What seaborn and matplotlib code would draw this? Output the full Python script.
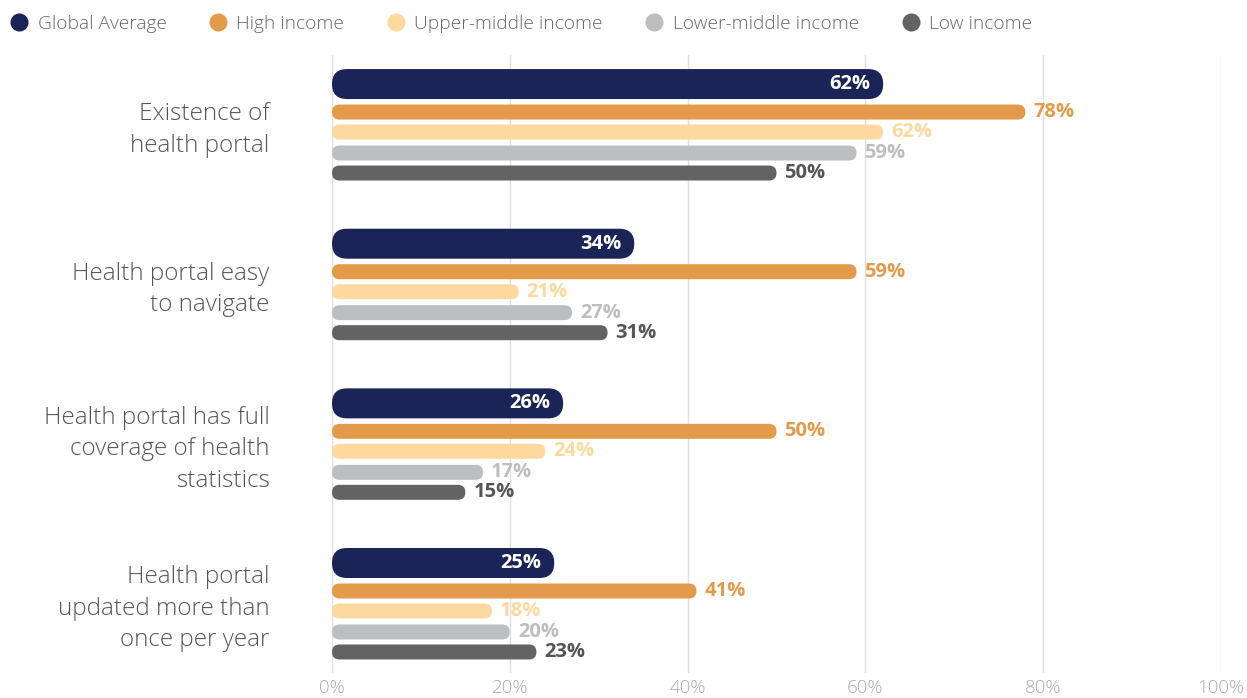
import matplotlib
matplotlib.use("Agg")
import matplotlib.pyplot as plt
import seaborn as sns
import pandas as pd
from matplotlib.patches import FancyBboxPatch
from matplotlib.lines import Line2D
from matplotlib.transforms import ScaledTranslation

# --- data -------------------------------------------------------------
categories = [
    "Existence of\nhealth portal",
    "Health portal easy\nto navigate",
    "Health portal has full\ncoverage of health\nstatistics",
    "Health portal\nupdated more than\nonce per year",
]
series = ["Global Average", "High income", "Upper-middle income",
          "Lower-middle income", "Low income"]
global_average = [62, 34, 26, 25]
high_income = [78, 59, 50, 41]
upper_middle_income = [62, 21, 24, 18]
lower_middle_income = [59, 27, 17, 20]
low_income = [50, 31, 15, 23]
xticks = [0, 20, 40, 60, 80, 100]

bar_colors = ["#1A2456", "#E39B4B", "#FDD9A0", "#BDBEC0", "#636363"]
label_colors = ["#FFFFFF", "#E39B4B", "#FDD9A0", "#BDBEC0", "#555555"]

values = [global_average, high_income, upper_middle_income,
          lower_middle_income, low_income]
df = pd.DataFrame({
    "category": [c for _ in series for c in categories],
    "series": [s for s in series for _ in categories],
    "value": [v for vals in values for v in vals],
})

# --- figure -----------------------------------------------------------
sns.set_theme(style="white")
plt.rcParams["font.family"] = ["Open Sans", "DejaVu Sans"]

W, H = 1247, 698
fig = plt.figure(figsize=(W / 100, H / 100), dpi=100)
ax_left, ax_right, ax_top, ax_bottom = 332, 1221, 55, 673
ax = fig.add_axes([ax_left / W, 1 - ax_bottom / H,
                   (ax_right - ax_left) / W, (ax_bottom - ax_top) / H])

sns.barplot(data=df, x="value", y="category", hue="series",
            order=categories, hue_order=series, palette=bar_colors,
            orient="h", dodge=True, legend=False, ax=ax)

ax.set_xlim(0, 100)
ax.set_ylim(3.426, -0.445)

px_per_y = 159.7                       # pixels per category step
x_per_px = 100 / (ax_right - ax_left)  # data units per pixel along x
offsets_px = [-42, -14, 6, 27, 47]     # bar centres relative to group centre
heights_px = [30, 15, 15, 15, 15]

# Swap seaborn's rectangles for pill-shaped bars
for k, container in enumerate(ax.containers):
    h_y = heights_px[k] / px_per_y
    r_x = heights_px[k] / 2 * x_per_px
    aspect = (h_y / 2) / r_x
    for j, rect in enumerate(container.patches):
        val = rect.get_width()
        yc = j + offsets_px[k] / px_per_y
        rect.set_visible(False)
        pill = FancyBboxPatch(
            (0, yc - h_y / 2), val, h_y,
            boxstyle=f"round,pad=0,rounding_size={r_x}",
            mutation_aspect=aspect, mutation_scale=1,
            facecolor=bar_colors[k], edgecolor="none", zorder=3)
        ax.add_patch(pill)
        if k == 0:
            ax.text(val - 13 * x_per_px, yc, f"{val:.0f}%", ha="right",
                    va="center", color=label_colors[k], fontsize=14.5,
                    fontweight="bold", zorder=4)
        else:
            ax.text(val + 8 * x_per_px, yc, f"{val:.0f}%", ha="left",
                    va="center", color=label_colors[k], fontsize=14.5,
                    fontweight="bold", zorder=4)

# axes styling
for s in ax.spines.values():
    s.set_visible(False)
ax.set_xticks(xticks)
ax.set_xticklabels([f"{t}%" for t in xticks], color="#AAAAAA", fontsize=13.5,
                   fontweight="light")
ax.tick_params(axis="x", length=0, pad=4)
ax.grid(axis="x", color="#E0E0E0", linewidth=1, zorder=0)
ax.set_axisbelow(True)
ax.set_xlabel("")
ax.set_ylabel("")
ax.set_yticks(range(len(categories)))
ax.set_yticklabels(categories, color="#555555", fontsize=17.5,
                   fontweight="light", linespacing=1.42)
ax.tick_params(axis="y", length=0, pad=45)
lift = ScaledTranslation(0, 3 / 100, fig.dpi_scale_trans)
for lbl in ax.get_yticklabels():
    lbl.set_transform(lbl.get_transform() + lift)

# legend
handles = [Line2D([0], [0], marker="o", linestyle="none", markersize=13,
                  markerfacecolor=c, markeredgecolor="none")
           for c in bar_colors]
leg = fig.legend(handles, series, loc="center left",
                 bbox_to_anchor=(-0.0045, 1 - 24 / H), ncol=5, frameon=False,
                 fontsize=13.8, handletextpad=0.35, columnspacing=2.1,
                 borderaxespad=0.3, handlelength=1.2)
for t in leg.get_texts():
    t.set_color("#666666")
    t.set_fontweight("light")

fig.savefig("out.png", dpi=100)
